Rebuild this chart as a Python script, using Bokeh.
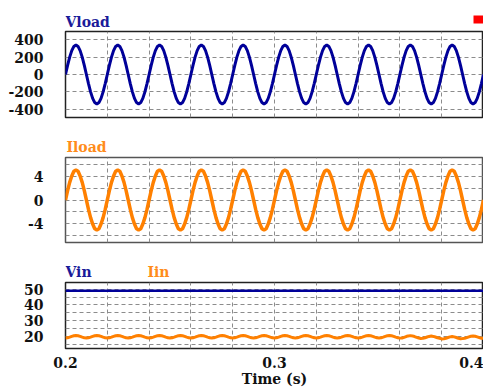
from bokeh.plotting import figure
from bokeh.layouts import column
from bokeh.models import FixedTicker, Label, ColumnDataSource, Range1d
from bokeh.embed import file_html
from bokeh.resources import INLINE

# ---------------- data (1 ms samples from 0.200 s to 0.400 s) -------------
t_start = 0.200
t_step = 0.001

vload = [
    0, 105, 200, 275, 323, 340, 323, 275, 200, 105, 0, -105, -200, -275, -323, -340, -323, -275, -200, -105,
    0, 105, 200, 275, 323, 340, 323, 275, 200, 105, 0, -105, -200, -275, -323, -340, -323, -275, -200, -105,
    0, 105, 200, 275, 323, 340, 323, 275, 200, 105, 0, -105, -200, -275, -323, -340, -323, -275, -200, -105,
    0, 105, 200, 275, 323, 340, 323, 275, 200, 105, 0, -105, -200, -275, -323, -340, -323, -275, -200, -105,
    0, 105, 200, 275, 323, 340, 323, 275, 200, 105, 0, -105, -200, -275, -323, -340, -323, -275, -200, -105,
    0, 105, 200, 275, 323, 340, 323, 275, 200, 105, 0, -105, -200, -275, -323, -340, -323, -275, -200, -105,
    0, 105, 200, 275, 323, 340, 323, 275, 200, 105, 0, -105, -200, -275, -323, -340, -323, -275, -200, -105,
    0, 105, 200, 275, 323, 340, 323, 275, 200, 105, 0, -105, -200, -275, -323, -340, -323, -275, -200, -105,
    0, 105, 200, 275, 323, 340, 323, 275, 200, 105, 0, -105, -200, -275, -323, -340, -323, -275, -200, -105,
    0, 105, 200, 275, 323, 340, 323, 275, 200, 105, 0, -105, -200, -275, -323, -340, -323, -275, -200, -105,
    0,
]

iload = [
    0, 1.6, 3.0, 4.1, 4.9, 5.1, 4.9, 4.1, 3.0, 1.6, 0, -1.6, -3.0, -4.1, -4.9, -5.1, -4.9, -4.1, -3.0, -1.6,
    0, 1.6, 3.0, 4.1, 4.9, 5.1, 4.9, 4.1, 3.0, 1.6, 0, -1.6, -3.0, -4.1, -4.9, -5.1, -4.9, -4.1, -3.0, -1.6,
    0, 1.6, 3.0, 4.1, 4.9, 5.1, 4.9, 4.1, 3.0, 1.6, 0, -1.6, -3.0, -4.1, -4.9, -5.1, -4.9, -4.1, -3.0, -1.6,
    0, 1.6, 3.0, 4.1, 4.9, 5.1, 4.9, 4.1, 3.0, 1.6, 0, -1.6, -3.0, -4.1, -4.9, -5.1, -4.9, -4.1, -3.0, -1.6,
    0, 1.6, 3.0, 4.1, 4.9, 5.1, 4.9, 4.1, 3.0, 1.6, 0, -1.6, -3.0, -4.1, -4.9, -5.1, -4.9, -4.1, -3.0, -1.6,
    0, 1.6, 3.0, 4.1, 4.9, 5.1, 4.9, 4.1, 3.0, 1.6, 0, -1.6, -3.0, -4.1, -4.9, -5.1, -4.9, -4.1, -3.0, -1.6,
    0, 1.6, 3.0, 4.1, 4.9, 5.1, 4.9, 4.1, 3.0, 1.6, 0, -1.6, -3.0, -4.1, -4.9, -5.1, -4.9, -4.1, -3.0, -1.6,
    0, 1.6, 3.0, 4.1, 4.9, 5.1, 4.9, 4.1, 3.0, 1.6, 0, -1.6, -3.0, -4.1, -4.9, -5.1, -4.9, -4.1, -3.0, -1.6,
    0, 1.6, 3.0, 4.1, 4.9, 5.1, 4.9, 4.1, 3.0, 1.6, 0, -1.6, -3.0, -4.1, -4.9, -5.1, -4.9, -4.1, -3.0, -1.6,
    0, 1.6, 3.0, 4.1, 4.9, 5.1, 4.9, 4.1, 3.0, 1.6, 0, -1.6, -3.0, -4.1, -4.9, -5.1, -4.9, -4.1, -3.0, -1.6,
    0,
]

iin = [
    19.0, 19.1, 19.5, 20.0, 20.4, 20.6, 20.4, 20.0, 19.5, 19.1,
    19.0, 19.1, 19.5, 20.0, 20.4, 20.6, 20.4, 20.0, 19.5, 19.1,
    19.0, 19.1, 19.5, 20.0, 20.4, 20.6, 20.4, 20.0, 19.5, 19.1,
    19.0, 19.1, 19.5, 20.0, 20.4, 20.6, 20.4, 20.0, 19.5, 19.1,
    19.0, 19.1, 19.5, 20.0, 20.4, 20.6, 20.4, 20.0, 19.5, 19.1,
    19.0, 19.1, 19.5, 20.0, 20.4, 20.6, 20.4, 20.0, 19.5, 19.1,
    19.0, 19.1, 19.5, 20.0, 20.4, 20.6, 20.4, 20.0, 19.5, 19.1,
    19.0, 19.1, 19.5, 20.0, 20.4, 20.6, 20.4, 20.0, 19.5, 19.1,
    19.0, 19.1, 19.5, 20.0, 20.4, 20.6, 20.4, 20.0, 19.5, 19.1,
    19.0, 19.1, 19.5, 20.0, 20.4, 20.6, 20.4, 20.0, 19.5, 19.1,
    19.0, 19.1, 19.5, 20.0, 20.4, 20.6, 20.4, 20.0, 19.5, 19.1,
    19.0, 19.1, 19.5, 20.0, 20.4, 20.6, 20.4, 20.0, 19.5, 19.1,
    19.0, 19.1, 19.5, 20.0, 20.4, 20.6, 20.4, 20.0, 19.5, 19.1,
    19.0, 19.1, 19.5, 20.0, 20.4, 20.6, 20.4, 20.0, 19.5, 19.1,
    19.0, 19.1, 19.5, 20.0, 20.4, 20.6, 20.4, 20.0, 19.5, 19.1,
    19.0, 19.1, 19.5, 20.0, 20.4, 20.6, 20.4, 20.0, 19.5, 19.1,
    18.9, 19.0, 19.4, 19.9, 20.3, 20.5, 20.3, 19.9, 19.4, 19.0,
    18.7, 18.8, 19.1, 19.6, 20.0, 20.2, 20.0, 19.6, 19.1, 18.8,
    18.4, 18.5, 18.8, 19.3, 19.7, 19.9, 19.7, 19.3, 18.8, 18.5,
    18.6, 18.8, 19.2, 19.7, 20.1, 20.3, 20.1, 19.7, 19.2, 18.8,
    18.9,
]

vin_t = [0.200, 0.400]
vin = [49.0, 49.0]

x_ticks = [0.2, 0.3, 0.4]
x_grid = [0.20, 0.22, 0.24, 0.26, 0.28, 0.30, 0.32, 0.34, 0.36, 0.38, 0.40]
vload_ticks = [-400, -200, 0, 200, 400]
iload_ticks = [-4, 0, 4]
iload_grid = [-6, -4, -2, 0, 2, 4, 6]
vin_ticks = [20, 30, 40, 50]
vin_grid = [15, 20, 25, 30, 35, 40, 45, 50]

t = [t_start + i * t_step for i in range(len(vload))]

# ---------------- style ----------------
BLUE = "#000099"
BLUE_TXT = "#1a1a99"
ORANGE = "#ff8000"
ORANGE_TXT = "#ff8c1a"
FONT = "DejaVu Serif"
FS = "14px"
GRID = "#8c8c8c"
W = 483
LEFT = 65
FRAME_W = W - LEFT
MARKER_SIZE = 10  # the small red corner marker, in pixels


def header(height):
    """A strip above each panel that holds the panel's titles."""
    h = figure(width=W, height=height, x_range=Range1d(0, FRAME_W), y_range=Range1d(0, height),
               output_backend="svg", toolbar_location=None,
               min_border_left=LEFT, min_border_right=0, min_border_top=0, min_border_bottom=0)
    h.axis.visible = False
    h.grid.visible = False
    h.outline_line_color = None
    h.background_fill_color = "white"
    h.border_fill_color = "white"
    return h


def title(h, x, y, text, color):
    h.add_layout(Label(x=x, y=y, text=text, text_font=FONT, text_font_style="bold",
                       text_font_size=FS, text_color=color,
                       text_baseline="alphabetic", text_align="left"))


def make_fig(height, bottom, yr, yticks, ygrid, outline):
    p = figure(width=W, height=height, x_range=Range1d(0.2, 0.4), y_range=Range1d(*yr),
               output_backend="svg", toolbar_location=None,
               min_border_left=LEFT, min_border_right=0, min_border_top=2, min_border_bottom=bottom)
    p.background_fill_color = "white"
    p.border_fill_color = "white"
    p.outline_line_color = outline
    p.outline_line_width = 1.5
    p.xaxis.ticker = FixedTicker(ticks=x_ticks)
    p.yaxis.ticker = FixedTicker(ticks=yticks)
    p.yaxis.major_label_overrides = {v: str(v) for v in yticks if v < 0}
    p.xgrid.ticker = FixedTicker(ticks=x_grid)
    p.ygrid.ticker = FixedTicker(ticks=ygrid)
    for g in (p.xgrid, p.ygrid):
        g.grid_line_color = GRID
        g.grid_line_dash = "4 3"
        g.grid_line_width = 1
    for ax in (p.xaxis, p.yaxis):
        ax.axis_line_color = None
        ax.major_tick_line_color = None
        ax.minor_tick_line_color = None
        ax.major_tick_out = 0
        ax.major_tick_in = 0
        ax.major_label_text_font = FONT
        ax.major_label_text_font_style = "bold"
        ax.major_label_text_font_size = FS
        ax.major_label_text_color = "#111111"
    p.yaxis.major_label_standoff = 22
    return p


# Panel 1: Vload
h1 = header(29)
title(h1, 0, 8, "Vload", BLUE_TXT)
# small red marker in the top-right corner (decoration)
h1.quad(left=[FRAME_W - MARKER_SIZE], right=[FRAME_W], bottom=[6], top=[14],
        fill_color="#ff0000", line_color=None)
p1 = make_fig(99, 11, (-495, 495), vload_ticks, vload_ticks, "#222222")
p1.xaxis.visible = False
p1.line(x="t", y="v", source=ColumnDataSource(dict(t=t, v=vload)), line_color=BLUE, line_width=3)

# Panel 2: Iload
h2 = header(27)
title(h2, 1, 9, "Iload", ORANGE_TXT)
p2 = make_fig(99, 12, (-7.25, 7.25), iload_ticks, iload_grid, "#555555")
p2.xaxis.visible = False
p2.line(x="t", y="i", source=ColumnDataSource(dict(t=t, i=iload)), line_color=ORANGE, line_width=3.5)

# Panel 3: Vin, Iin
h3 = header(26)
title(h3, 0, 9, "Vin", BLUE_TXT)
title(h3, 82, 9, "Iin", ORANGE_TXT)
p3 = make_fig(110, 42, (12.3, 54.3), vin_ticks, vin_grid, "#222222")
p3.xaxis.axis_label = "Time (s)"
p3.xaxis.axis_label_text_font = FONT
p3.xaxis.axis_label_text_font_style = "bold"
p3.xaxis.axis_label_text_font_size = FS
p3.xaxis.axis_label_text_color = "#111111"
p3.xaxis.axis_label_standoff = 0
p3.xaxis.major_label_standoff = 8
p3.line(x="t", y="v", source=ColumnDataSource(dict(t=vin_t, v=vin)), line_color=BLUE, line_width=2.5)
p3.line(x="t", y="i", source=ColumnDataSource(dict(t=t, i=iin)), line_color=ORANGE, line_width=3)

layout = column(h1, p1, h2, p2, h3, p3, spacing=0)
open("out.html", "w").write(file_html(layout, INLINE))
